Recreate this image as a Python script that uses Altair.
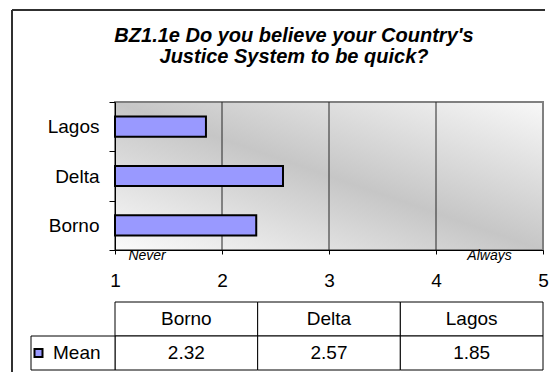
import altair as alt
import pandas as pd

# ---- data ----
regions = ["Borno", "Delta", "Lagos"]
means = [2.32, 2.57, 1.85]
row_order = ["Lagos", "Delta", "Borno"]
x_ticks = [1, 2, 3, 4, 5]
grid_values = [2, 3, 4]
end_labels = ["Never", "Always"]
end_label_pos = [1.3, 4.5]
series_name = "Mean"
title_lines = ["BZ1.1e Do you believe your Country's", "Justice System to be quick?"]

FONT = "Liberation Sans"
W, H = 428, 148
TH = 68
GAP = 52
BAR_FILL = "#9999FF"

bars_df = pd.DataFrame({"region": regions, "mean": means, "base": [x_ticks[0]] * len(regions)})
grid_df = pd.DataFrame({"v": grid_values})
ends_df = pd.DataFrame({"label": end_labels, "pos": end_label_pos})
plot_df = pd.DataFrame({"a": [x_ticks[0]], "b": [x_ticks[-1]]})

xscale = alt.Scale(domain=[x_ticks[0], x_ticks[-1]], nice=False, zero=False)
yscale = alt.Scale(domain=row_order, paddingInner=0, paddingOuter=0)
xaxis = alt.Axis(
    values=x_ticks, format="d", labelFontSize=19, labelFont=FONT, labelColor="black",
    labelPadding=17, tickSize=4, tickColor="black", domainColor="black",
    grid=False, title=None, zindex=1, labelFlush=False, labelOverlap=False,
)

gradient = alt.LinearGradient(
    gradient="linear",
    stops=[
        alt.GradientStop(color="#fbfbfb", offset=0),
        alt.GradientStop(color="#c6c6c6", offset=0.5),
        alt.GradientStop(color="#f8f8f8", offset=1),
    ],
    x1=0, y1=1, x2=1, y2=0,
)

bg = alt.Chart(plot_df).mark_rect(fill=gradient, stroke="#808080", strokeWidth=2).encode(
    x=alt.X("a:Q", scale=xscale, axis=xaxis),
    x2="b:Q",
    y=alt.value(0),
    y2=alt.value(H),
)

rules = alt.Chart(grid_df).mark_rule(color="#262626", strokeWidth=1).encode(
    x=alt.X("v:Q", scale=xscale, axis=xaxis)
)

bars = alt.Chart(bars_df).mark_bar(
    fill=BAR_FILL, stroke="black", strokeWidth=2, height=alt.RelativeBandSize(0.41)
).encode(
    x=alt.X("mean:Q", scale=xscale, axis=xaxis),
    x2="base:Q",
    y=alt.Y(
        "region:N",
        scale=yscale,
        sort=row_order,
        axis=alt.Axis(
            labelFontSize=19, labelFont=FONT, labelColor="black", labelPadding=10,
            tickSize=6, tickBand="extent", tickColor="black", domainColor="black",
            title=None, zindex=1, grid=False,
        ),
    ),
)

ends = alt.Chart(ends_df).mark_text(
    font=FONT, fontSize=14, fontStyle="italic", baseline="middle", color="black"
).encode(
    x=alt.X("pos:Q", scale=xscale, axis=xaxis),
    y=alt.value(H + 6),
    text="label:N",
)

top = alt.layer(bg, rules, bars, ends).properties(
    width=W,
    height=H,
    title=alt.TitleParams(
        text=title_lines, font=FONT, fontSize=20, fontStyle="italic", fontWeight="bold",
        color="black", lineHeight=21, anchor="middle", frame="group", dx=-35, offset=26,
    ),
)

# ---- data table ----
rows = ["hdr", series_name]
tbl = pd.DataFrame(
    {
        "region": regions * 2,
        "row": ["hdr"] * len(regions) + [series_name] * len(regions),
        "text": regions + [f"{v:.2f}" for v in means],
    }
)
tx = alt.X("region:N", sort=regions, scale=alt.Scale(paddingInner=0, paddingOuter=0), axis=None)
ty = alt.Y("row:N", sort=rows, scale=alt.Scale(domain=rows, paddingInner=0, paddingOuter=0), axis=None)

cells = alt.Chart(tbl).mark_rect(fill="white", stroke="black", strokeWidth=1).encode(x=tx, y=ty)
cell_text = alt.Chart(tbl).mark_text(font=FONT, fontSize=19, color="black", baseline="middle").encode(
    x=tx, y=ty, text="text:N"
)

lab_df = pd.DataFrame({"row": [series_name]})
lab_cell = alt.Chart(lab_df).mark_rect(fill="white", stroke="black", strokeWidth=1).encode(
    x=alt.value(-84), x2=alt.value(0), y=ty
)
lab_square = alt.Chart(lab_df).mark_square(
    size=64, fill=BAR_FILL, stroke="black", strokeWidth=2, opacity=1
).encode(x=alt.value(-76.5), y=ty)
lab_text = alt.Chart(lab_df).mark_text(
    font=FONT, fontSize=19, color="black", align="left", baseline="middle"
).encode(x=alt.value(-62), y=ty, text="row:N")

# outer chart-area frame (left and top edges)
frame_df = pd.DataFrame({"k": [0]})
frame_y = -92 - H - GAP
frame_left = alt.Chart(frame_df).mark_rule(color="#303030", strokeWidth=2).encode(
    x=alt.value(-103), y=alt.value(frame_y), y2=alt.value(TH + 2)
)
frame_top = alt.Chart(frame_df).mark_rule(color="#303030", strokeWidth=2).encode(
    x=alt.value(-103), x2=alt.value(W + 2), y=alt.value(frame_y)
)

table = alt.layer(
    cells, cell_text, lab_cell, lab_square, lab_text, frame_left, frame_top
).properties(width=W, height=TH)

chart = (
    alt.vconcat(top, table, spacing=GAP, bounds="flush")
    .properties(padding={"left": 3, "top": 1, "right": 0, "bottom": 0}, background="white")
    .configure_view(strokeWidth=0)
)

chart.save("out.html", embed_options={"renderer": "svg", "actions": False})
